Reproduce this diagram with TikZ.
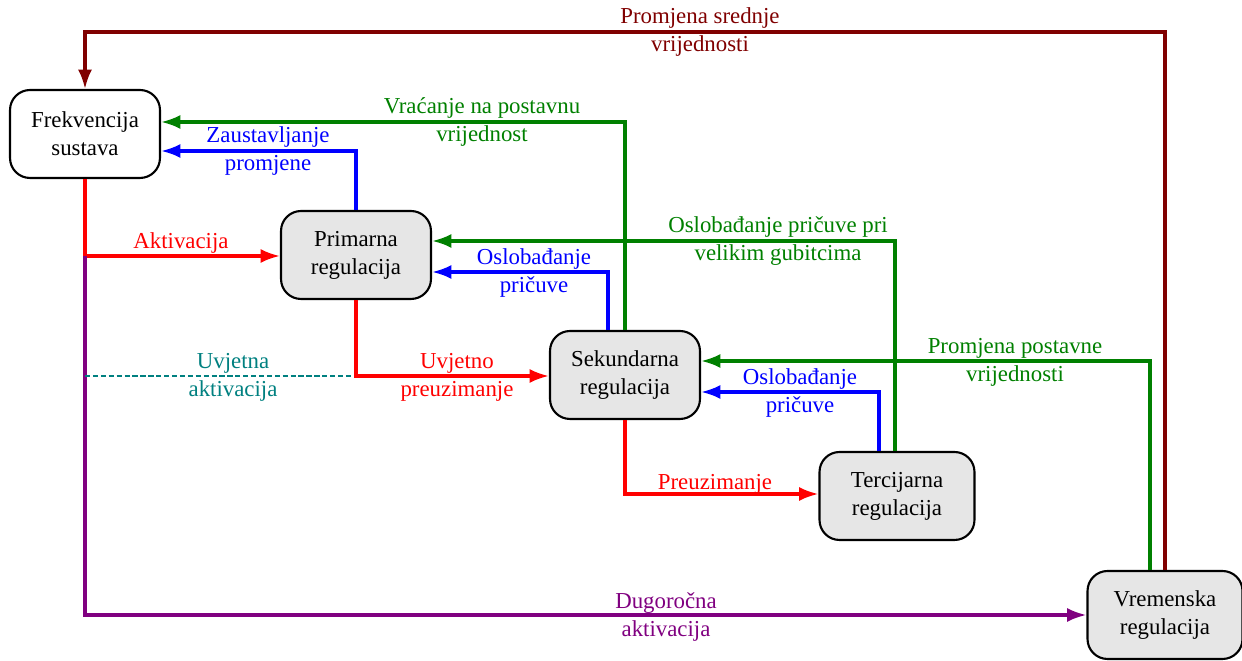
\documentclass[tikz,border=0pt]{standalone}
\usepackage{fontspec}
\setmainfont{Liberation Serif}
\usetikzlibrary{arrows.meta}
\usetikzlibrary{calc}
\definecolor{tamnocrvena}{RGB}{128,0,0}
\definecolor{zelena}{RGB}{0,128,0}
\definecolor{ljubicasta}{RGB}{128,0,128}
\definecolor{tirkizna}{RGB}{0,128,128}
\definecolor{sivo}{RGB}{230,230,230}
\tikzset{
	>={Latex[length=11pt,width=8pt]},
	blok/.style={
		rectangle,
		rounded corners=0.4cm,
		draw=black, line width=1.2pt,
		minimum width=3cm,
		minimum height=1.76cm,
		align=center,
		font=\fontsize{13}{16}\selectfont},
	siviblok/.style={blok, fill=sivo},
	veza/.style={line width=1.8pt, ->},
	oznaka/.style={align=center, font=\fontsize{13}{16}\selectfont},
}

\begin{document}
\begin{tikzpicture}[x=0.02cm, y=-0.02cm]
	\useasboundingbox (0,0) rectangle (1242,661);
	% blokovi
	\node[blok, fill=white] (frek) at (85,134) {Frekvencija\\sustava};
	\node[siviblok] (prim) at (356,255) {Primarna\\regulacija};
	\node[siviblok] (sek) at (625,375) {Sekundarna\\regulacija};
	\node[siviblok, minimum width=3.1cm] (ter) at (897,496) {Tercijarna\\regulacija};
	\node[siviblok, minimum width=3.1cm] (vrem) at (1165,615) {Vremenska\\regulacija};
	\coordinate (racva) at (frek.south |- 0,256);
	% veze
	\draw[veza, tamnocrvena] (vrem.north) -- (vrem.north |- 0,32) -- (frek.north |- 0,32) -- (frek.north);
	\draw[veza, zelena] (sek.north) -- (sek.north |- 0,122) -- (frek.east |- 0,122);
	\draw[veza, blue] (prim.north) -- (prim.north |- 0,151) -- (frek.east |- 0,151);
	\draw[veza, red] (frek.south) -- (racva) -- (prim.west |- racva);
	\draw[veza, ljubicasta] (racva) -- (racva |- vrem.west) -- (vrem.west);
	\draw[tirkizna, line width=1.2pt, dash pattern=on 3pt off 1.5pt] (racva |- 0,376) -- (prim.south |- 0,376);
	\draw[veza, red] (prim.south) -- (prim.south |- 0,376) -- (sek.west |- 0,376);
	\draw[veza, zelena] ($(ter.north)+(-2,0)$) -- ($(ter.north |- 0,241)+(-2,0)$) -- (prim.east |- 0,241);
	\draw[veza, blue] ($(sek.north)+(-17,0)$) -- ($(sek.north |- 0,272)+(-17,0)$) -- (prim.east |- 0,272);
	\draw[veza, zelena] ($(vrem.north)+(-15,0)$) -- ($(vrem.north |- 0,361)+(-15,0)$) -- (sek.east |- 0,361);
	\draw[veza, blue] ($(ter.north)+(-18,0)$) -- ($(ter.north |- 0,392)+(-18,0)$) -- (sek.east |- 0,392);
	\draw[veza, red] (sek.south) -- (sek.south |- 0,494) -- (ter.west |- 0,494);
	% oznake
	\node[oznaka, tamnocrvena] (lsrednje) at (700,32) {Promjena srednje\\vrijednosti};
	\node[oznaka, zelena] (lvracanje) at (482,122) {Vraćanje na postavnu\\vrijednost};
	\node[oznaka, blue] (lzaust) at (268,151) {Zaustavljanje\\promjene};
	\node[oznaka, red] (lakt) at (181,243) {Aktivacija};
	\node[oznaka, zelena] (lgubitci) at (778,241) {Oslobađanje pričuve pri\\velikim gubitcima};
	\node[oznaka, blue] (lprim) at (534,273) {Oslobađanje\\pričuve};
	\node[oznaka, tirkizna] (luvjetna) at (233,377) {Uvjetna\\aktivacija};
	\node[oznaka, red] (luvjetno) at (457,377) {Uvjetno\\preuzimanje};
	\node[oznaka, zelena] (lpostavne) at (1015,362) {Promjena postavne\\vrijednosti};
	\node[oznaka, blue] (lsek) at (800,393) {Oslobađanje\\pričuve};
	\node[oznaka, red] (lpreuz) at (715,484) {Preuzimanje};
	\node[oznaka, ljubicasta] (ldugo) at (666,617) {Dugoročna\\aktivacija};
\end{tikzpicture}
\end{document}
